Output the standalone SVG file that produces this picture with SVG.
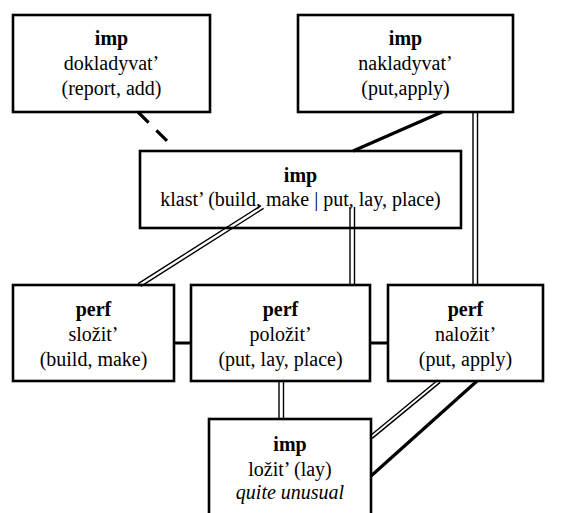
<svg xmlns="http://www.w3.org/2000/svg" width="562" height="513" viewBox="0 0 562 513">
  <style>
    .box { fill: #fff; stroke: #000; stroke-width: 2.6; }
    .t { font-family: "Liberation Serif", "Times New Roman", serif; font-size: 20px; fill: #000; text-anchor: middle; }
    .b { font-weight: bold; }
    .i { font-style: italic; }
    .thick { stroke: #000; stroke-width: 3.2; fill: none; }
    .thin { stroke: #000; stroke-width: 1.4; fill: none; }
    .dash { stroke: #000; stroke-width: 3.2; fill: none; stroke-dasharray: 15 11; }
  </style>
  <rect width="562" height="513" fill="#fff"/>

  <!-- nodes -->
  <g id="dokladyvat">
    <rect class="box" x="13" y="15" width="197" height="97"/>
    <text class="t b" x="111.5" y="45">imp</text>
    <text class="t" x="111.5" y="70">dokladyvat’</text>
    <text class="t" x="111.5" y="95">(report, add)</text>
  </g>
  <g id="nakladyvat">
    <rect class="box" x="298" y="15" width="215" height="97"/>
    <text class="t b" x="405.5" y="45">imp</text>
    <text class="t" x="405.5" y="70">nakladyvat’</text>
    <text class="t" x="405.5" y="95">(put,apply)</text>
  </g>
  <g id="klast">
    <rect class="box" x="140" y="151" width="321" height="77"/>
    <text class="t b" x="300.5" y="182">imp</text>
    <text class="t" x="300.5" y="206">klast’ (build, make | put, lay, place)</text>
  </g>
  <g id="slozit">
    <rect class="box" x="13" y="285" width="161" height="96"/>
    <text class="t b" x="93.5" y="316">perf</text>
    <text class="t" x="93.5" y="341">složit’</text>
    <text class="t" x="93.5" y="366">(build, make)</text>
  </g>
  <g id="polozit">
    <rect class="box" x="191" y="285" width="179" height="96"/>
    <text class="t b" x="280.5" y="316">perf</text>
    <text class="t" x="280.5" y="341">položit’</text>
    <text class="t" x="280.5" y="366">(put, lay, place)</text>
  </g>
  <g id="nalozit">
    <rect class="box" x="388" y="285" width="155" height="96"/>
    <text class="t b" x="465.5" y="316">perf</text>
    <text class="t" x="465.5" y="341">naložit’</text>
    <text class="t" x="465.5" y="366">(put, apply)</text>
  </g>
  <g id="lozit">
    <rect class="box" x="209" y="419" width="162" height="101"/>
    <text class="t b" x="290" y="451">imp</text>
    <text class="t" x="290" y="476">ložit’ (lay)</text>
    <text class="t i" x="290" y="499">quite unusual</text>
  </g>

  <!-- connectors -->
  <g id="connectors">
    <!-- dokladyvat' - klast' (dashed) -->
    <path class="dash" d="M138,112 L168,142"/>
    <!-- nakladyvat' - klast' -->
    <path class="thick" d="M442,112 L353,151"/>
    <!-- nakladyvat' = naložit' -->
    <path class="thin" d="M473,112 V285 M477.5,112 V285"/>
    <!-- klast' = složit' -->
    <path class="thin" d="M261,205.6 L138.2,283.6 M263.6,208.4 L140.8,286.4"/>
    <!-- klast' = položit' -->
    <path class="thin" d="M350,207 V285 M354.5,207 V285"/>
    <!-- perf row links -->
    <path class="thick" d="M174,343 H191 M370,343 H388"/>
    <!-- položit' = ložit' -->
    <path class="thin" d="M279,381 V419 M283.5,381 V419"/>
    <!-- naložit' = ložit' -->
    <path class="thin" d="M437.9,380 L369.9,436 M440.2,382.4 L372.2,438.4"/>
    <!-- naložit' - ložit' -->
    <path class="thick" d="M477,381 L371,476"/>
  </g>
</svg>
